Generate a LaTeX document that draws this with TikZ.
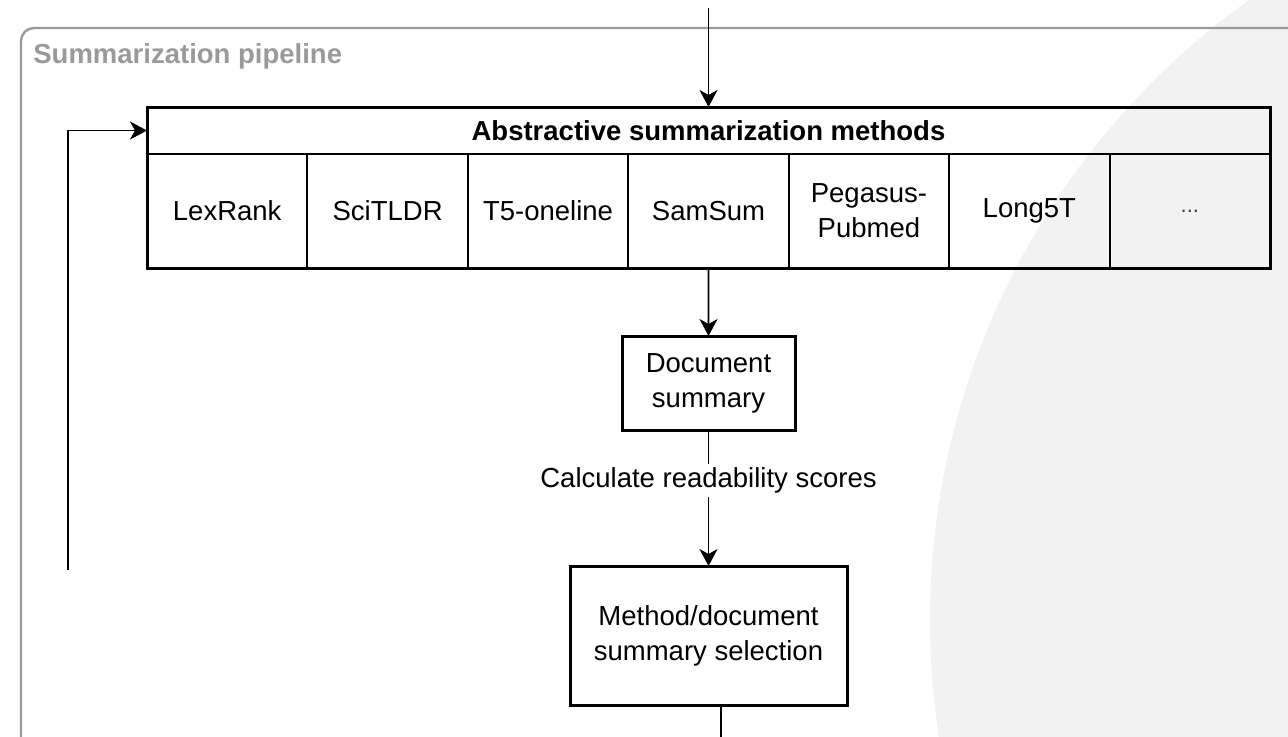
\documentclass[tikz,border=0pt]{standalone}
\usepackage{fontspec}
\setmainfont{Liberation Sans}
\usetikzlibrary{arrows.meta,positioning}

\definecolor{pipegray}{HTML}{9A9A9A}
\definecolor{bgcircle}{HTML}{F2F2F2}

\tikzset{
  cellbox/.style={draw, line width=1pt, minimum width=80.2pt, minimum height=57pt,
    inner sep=0pt, outer sep=0pt, align=center},
  hdrbox/.style={draw, line width=1pt, minimum width=561.5pt, minimum height=23.5pt,
    inner sep=0pt, outer sep=0pt, font=\fontsize{13.75}{17.5}\selectfont\bfseries},
  procbox/.style={draw, line width=1.5pt, fill=white, inner sep=0pt, outer sep=0pt, align=center},
  flowline/.style={line width=0.9pt},
  flowarrow/.style={flowline, -{Stealth[length=8.5pt,width=9pt,inset=2.5pt]}}
}

\begin{document}
\begin{tikzpicture}[x=0.5pt, y=-0.5pt, font=\fontsize{13.75}{17.5}\selectfont]
\def\xl{147}
\def\cw{160.43}
\def\ycell{211}

\clip (0,0) rectangle (1288,736);

% background
\fill[bgcircle] (1692,620) circle (381pt);
\draw[pipegray, line width=1.2pt, rounded corners=6.5pt] (21,28) rectangle (1330,780);
\node[anchor=base west, inner sep=0pt, text=pipegray, font=\fontsize{13.75}{17.5}\selectfont\bfseries]
  (title) at (33,63) {Summarization pipeline};

% methods table
\node[hdrbox] (hdr) at (708.5,130.5) {Abstractive summarization methods};
\foreach \txt [count=\i] in {LexRank, SciTLDR, T5-oneline, SamSum,
    {Pegasus-\\Pubmed}, Long5T}
  \node[cellbox] (m\i) at ({\xl+(\i-0.5)*\cw}, \ycell) {\txt};
\node[cellbox, text=darkgray, font=\fontsize{11}{14}\selectfont] (m7) at ({\xl+6.5*\cw}, \ycell) {...};
\draw[line width=1.5pt] (hdr.north west) rectangle (m7.south east);

% boxes
\node[procbox, minimum width=86.5pt, minimum height=47pt] (doc) at (708.5,383) {Document\\summary};
\node[procbox, minimum width=138.5pt, minimum height=69.5pt] (sel) at (708.5,635.5)
  {Method/document\\summary selection};

% connectors
\coordinate (in) at (708.5,8);
\coordinate (loop) at (68,570);
\coordinate (out) at (721,745);
\draw[flowarrow] (in) -- (hdr.north);
\draw[flowarrow] (loop) |- (hdr.west);
\draw[flowarrow] (m4.south) -- (doc.north);
\draw[flowarrow] (doc.south) -- node[pos=0.37, fill=white, inner sep=2pt] (calc)
  {Calculate readability scores} (sel.north);
\draw[flowline] (out |- sel.south) -- (out);

\end{tikzpicture}
\end{document}
